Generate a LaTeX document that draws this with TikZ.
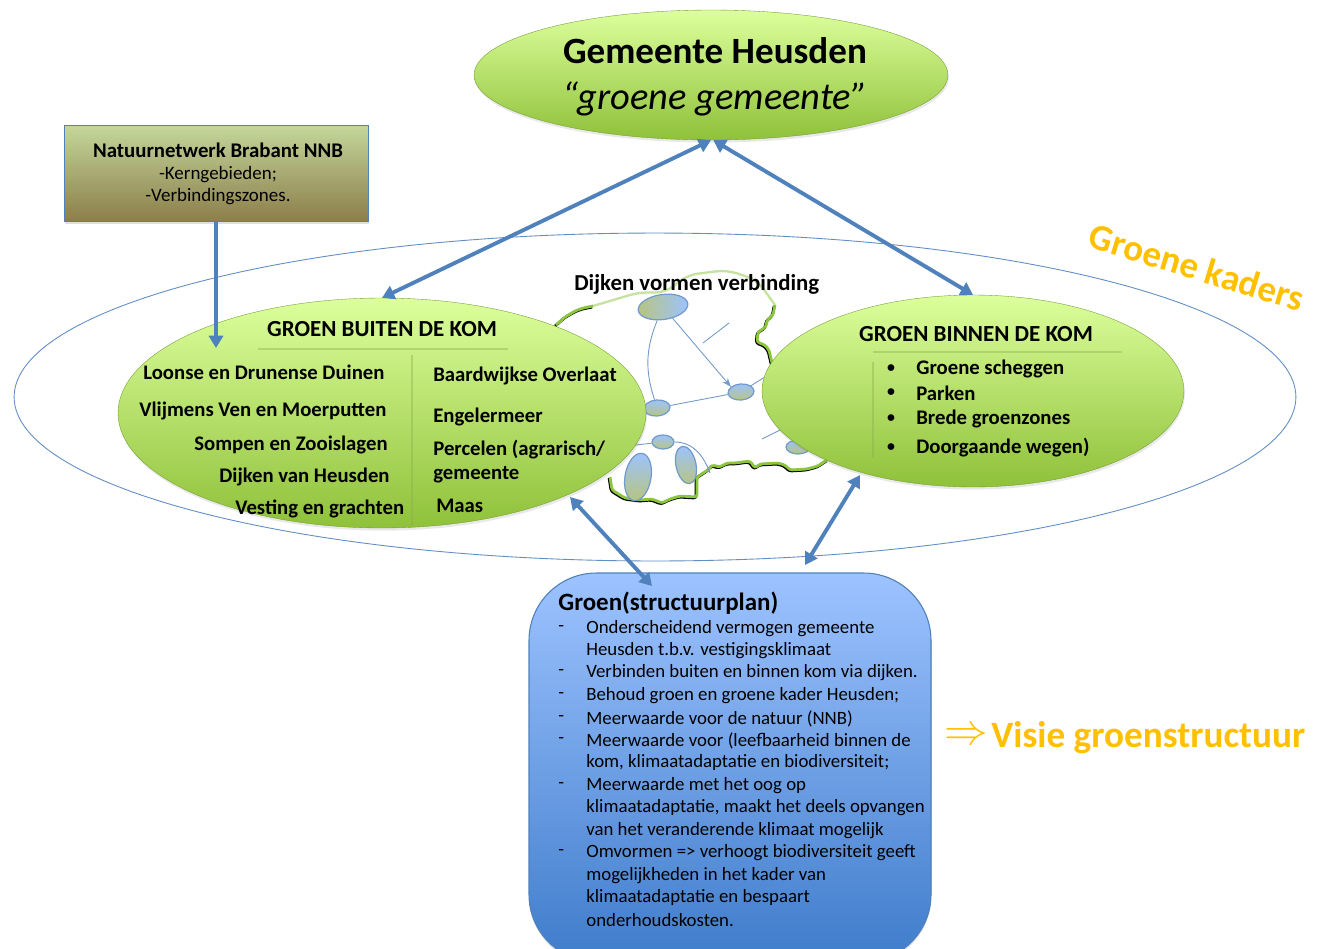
\documentclass[tikz,border=0pt]{standalone}
\usepackage{fontspec}
\setmainfont{Carlito}
\usetikzlibrary{shapes.geometric,shadows,arrows.meta}
\definecolor{linkblue}{HTML}{4F81BD}
\definecolor{ovaltop}{HTML}{DCFF9C}
\definecolor{ovalbot}{HTML}{8FC13A}
\definecolor{plantop}{HTML}{9DC3FF}
\definecolor{planbot}{HTML}{3F7CCB}
\definecolor{kader}{HTML}{FFC000}
\definecolor{dikegreen}{HTML}{8CC63F}
\definecolor{nnbtop}{HTML}{C4D79B}
\definecolor{nnbbot}{HTML}{8C7E4B}
\definecolor{isletbot}{HTML}{B7C47F}
\tikzset{
oval/.style={ellipse,inner sep=0pt,top color=ovaltop,bottom color=ovalbot,draw=ovalbot!80!black,line width=.2pt,
  drop shadow={opacity=.18,shadow xshift=.5pt,shadow yshift=-1.5pt}},
islet/.style={ellipse,inner sep=0pt,draw=linkblue!80,line width=.7pt,top color=plantop,bottom color=isletbot},
link/.style={draw=linkblue,line width=2.2pt,{Triangle[length=7pt,width=8pt]}-{Triangle[length=7pt,width=8pt]}},
thin link/.style={draw=linkblue!80,line width=.5pt},
dike/.style={draw=dikegreen,line width=1.6pt,rounded corners=1.5pt,
  preaction={draw=black,line width=1.6pt,transform canvas={shift={(-.5pt,-.6pt)}}}},
rule/.style={draw=ovalbot!70!gray,line width=1.4pt,opacity=.4},
lab/.style={anchor=west,inner sep=0pt,yshift=-.5pt,font=\fontsize{11.8}{14}\selectfont\bfseries},
head/.style={anchor=center,inner sep=0pt,yshift=-.5pt,font=\fontsize{13.1}{15}\selectfont\bfseries},
body/.style={anchor=west,inner sep=0pt,yshift=-1pt,font=\fontsize{10.7}{13}\selectfont}
}
\begin{document}
\begin{tikzpicture}[x=0.02cm,y=-0.02cm]
\clip (0,0) rectangle (1325,948);
\fill[white] (0,0) rectangle (1325,948);

% frame of the green areas
\node[ellipse,draw=linkblue!90,line width=.5pt,inner sep=0pt,minimum width=25.64cm,minimum height=6.56cm] (kaders) at (655,397) {};

% dikes on the map
\draw[draw=dikegreen!50!white,line width=1.3pt,rounded corners=6pt] (593,306)--(640,292)--(665,293)--(687,275)--(727,270)--(757,280)--(775,305);
\draw[dike] (556,325)--(565,317)--(575,311)--(583,308)--(593,306);
\draw[dike] (775,305)--(773,315)--(767,320)--(766,327)--(758,332)--(757,342)--(765,345)--(769,350)--(772,363);
\draw[dike] (827,460)--(818,466)--(807,469)--(790,470)--(785,465)--(778,463)--(760,464)--(755,468)--(750,461)--(735,463)--(727,463)--(720,467)--(712,465)--(708,470)--(697,477)--(697,497)--(680,496)--(670,499)--(662,503)--(652,499)--(640,500)--(625,498)--(612,490)--(610,477);

% islets on the map
\node[islet,minimum width=1cm,minimum height=.5cm,rotate=8,left color=isletbot,right color=plantop] (isA) at (663,307) {};
\node[islet,minimum width=.52cm,minimum height=.32cm,rotate=5] (isB) at (657,408) {};
\node[islet,minimum width=.52cm,minimum height=.32cm,rotate=5] (isC) at (741,392) {};
\node[islet,minimum width=.44cm,minimum height=.28cm] (isD) at (663,442) {};
\node[islet,minimum width=.52cm,minimum height=.96cm,rotate=-10] (isE) at (638,477) {};
\node[islet,minimum width=.4cm,minimum height=.76cm,rotate=12] (isF) at (686,465) {};
\node[islet,minimum width=.48cm,minimum height=.28cm] (isG) at (798,447) {};

\draw[thin link] (isA) to[bend right=20] (isB);
\draw[thin link,-{Stealth[length=5pt]}] (isA)--(isC.north west);
\draw[thin link] (isB)--(isC);
\coordinate (isCend) at (768,375);
\draw[thin link] (isC)--(isCend);
\coordinate (isDstart) at (635,445);
\coordinate (isDend) at (710,473);
\draw[thin link] (isDstart)--(isD);
\draw[thin link] (isD.east) to[out=0,in=110] (isDend);
\coordinate (strayA) at (703,343);
\coordinate (strayB) at (729,323);
\draw[thin link] (strayA)--(strayB);
\coordinate (strayC) at (762,439);
\coordinate (strayD) at (780,430);
\draw[thin link] (strayC)--(strayD);

% main boxes
\node[oval,minimum width=9.48cm,minimum height=2.6cm] (gemeente) at (711,75) {};
\node[oval,minimum width=10.56cm,minimum height=4.6cm] (buiten) at (382,413) {};
\node[oval,minimum width=8.44cm,minimum height=3.84cm] (binnen) at (973,391) {};
\node[rectangle,draw=linkblue,line width=.5pt,top color=nnbtop,bottom color=nnbbot,minimum width=6.08cm,minimum height=1.92cm,
  drop shadow={opacity=.25,shadow xshift=.5pt,shadow yshift=-1.5pt}] (natuur) at (216,173) {};
\fill[draw=linkblue,line width=.6pt,top color=plantop,bottom color=planbot,rounded corners=1.35cm,drop shadow={opacity=.2,shadow xshift=0pt,shadow yshift=-1.5pt}] (529,573) rectangle (931,962);
\coordinate (plan) at (652,586);
\coordinate (planb) at (805,565);

% connectors
\coordinate (natuurend) at (216,348);
\draw[draw=linkblue,line width=2.2pt,-{Triangle[length=7pt,width=8pt]}] (natuur.south)--(natuurend);
\draw[link] (buiten.north)--(gemeente.south);
\draw[link] (binnen.north)--(gemeente.-88);
\coordinate (buitenb) at (570,497);
\coordinate (binnenb) at (860,475);
\draw[link] (plan)--(buitenb);
\draw[link] (planb)--(binnenb);

% top oval
\node[anchor=center,inner sep=0pt,font=\fontsize{21.1}{24}\selectfont\bfseries] (gemeenteT) at (715,51) {Gemeente Heusden};
\node[anchor=center,inner sep=0pt,font=\fontsize{21.9}{25}\selectfont\itshape] (gemeenteS) at (715,98.5) {“groene gemeente”};

% box NNB
\node[anchor=center,inner sep=0pt,font=\fontsize{11.85}{14}\selectfont\bfseries] (nnbA) at (218,150) {Natuurnetwerk Brabant NNB};
\node[anchor=center,inner sep=0pt,font=\fontsize{10.8}{13}\selectfont] (nnbB) at (218,174.5) {-Kerngebieden;};
\node[anchor=center,inner sep=0pt,font=\fontsize{10.8}{13}\selectfont] (nnbC) at (218,196.5) {-Verbindingszones.};

% outside the kom
\node[head] (buitenT) at (382,328) {GROEN BUITEN DE KOM};
\coordinate (rA) at (258,349);
\coordinate (rB) at (508,349);
\draw[rule] (rA)--(rB);
\coordinate (rC) at (412,355);
\coordinate (rD) at (412,527);
\draw[rule] (rC)--(rD);
\node[lab] (bA) at (143,371) {Loonse en Drunense Duinen};
\node[lab] (bB) at (139,410) {Vlijmens Ven en Moerputten};
\node[lab] (bC) at (194,444) {Sompen en Zooislagen};
\node[lab] (bD) at (219,476) {Dijken van Heusden};
\node[lab] (bE) at (235,508) {Vesting en grachten};
\node[lab] (bF) at (433,375) {Baardwijkse Overlaat};
\node[lab] (bG) at (433,416) {Engelermeer};
\node[lab] (bH) at (433,449) {Percelen (agrarisch/};
\node[lab] (bI) at (433,474) {gemeente};
\node[lab] (bJ) at (436,505) {Maas};

% inside the kom
\node[head] (binnenT) at (976,333) {GROEN BINNEN DE KOM};
\coordinate (rE) at (873,352);
\coordinate (rF) at (1122,352);
\draw[rule] (rE)--(rF);
\coordinate (rG) at (873,362);
\coordinate (rH) at (873,458);
\draw[rule] (rG)--(rH);
\foreach \y/\t in {368/Groene scheggen,392/Parken,418/Brede groenzones,447/Doorgaande wegen)}{
  \node[lab,anchor=center,font=\fontsize{9}{11}\selectfont\bfseries] at (891,\y) {•};
  \node[lab] at (916,\y) {\t};
}

% map title
\node[lab,font=\fontsize{13}{15}\selectfont\bfseries] (dijken) at (574,284) {Dijken vormen verbinding};

% plan
\node[anchor=west,inner sep=0pt,yshift=-1pt,font=\fontsize{14.2}{16}\selectfont\bfseries] (planT) at (558,601) {Groen(structuurplan)};
\foreach \y in {627,671,694,717,739,784,851}{
  \node[body] at (558,\y) {-};
}
\foreach \y/\t in {627/Onderscheidend vermogen gemeente,
  649/Heusden t.b.v. vestigingsklimaat,
  671/Verbinden buiten en binnen kom via dijken.,
  694/Behoud groen en groene kader Heusden;,
  717/Meerwaarde voor de natuur (NNB),
  739/Meerwaarde voor (leefbaarheid binnen de,
  761/{kom, klimaatadaptatie en biodiversiteit;},
  784/Meerwaarde met het oog op,
  806/{klimaatadaptatie, maakt het deels opvangen},
  829/van het veranderende klimaat mogelijk,
  851/Omvormen => verhoogt biodiversiteit geeft,
  874/mogelijkheden in het kader van,
  896/klimaatadaptatie en bespaart,
  918/onderhoudskosten.}{
  \node[body] at (586,\y) {\t};
}

% orange labels
\node[anchor=center,inner sep=0pt,text=kader,rotate=-17,font=\fontsize{21}{24}\selectfont\bfseries] (groenekaders) at (1197,267) {Groene kaders};
\node[anchor=west,inner sep=0pt,text=kader,yshift=-1pt,font=\fontsize{25}{28}\selectfont] (implies) at (944,735) {$\Rightarrow$};
\node[anchor=west,inner sep=0pt,text=kader,yshift=-1.5pt,font=\fontsize{21.2}{24}\selectfont\bfseries] (visie) at (991,735) {Visie groenstructuur};
\end{tikzpicture}
\end{document}
